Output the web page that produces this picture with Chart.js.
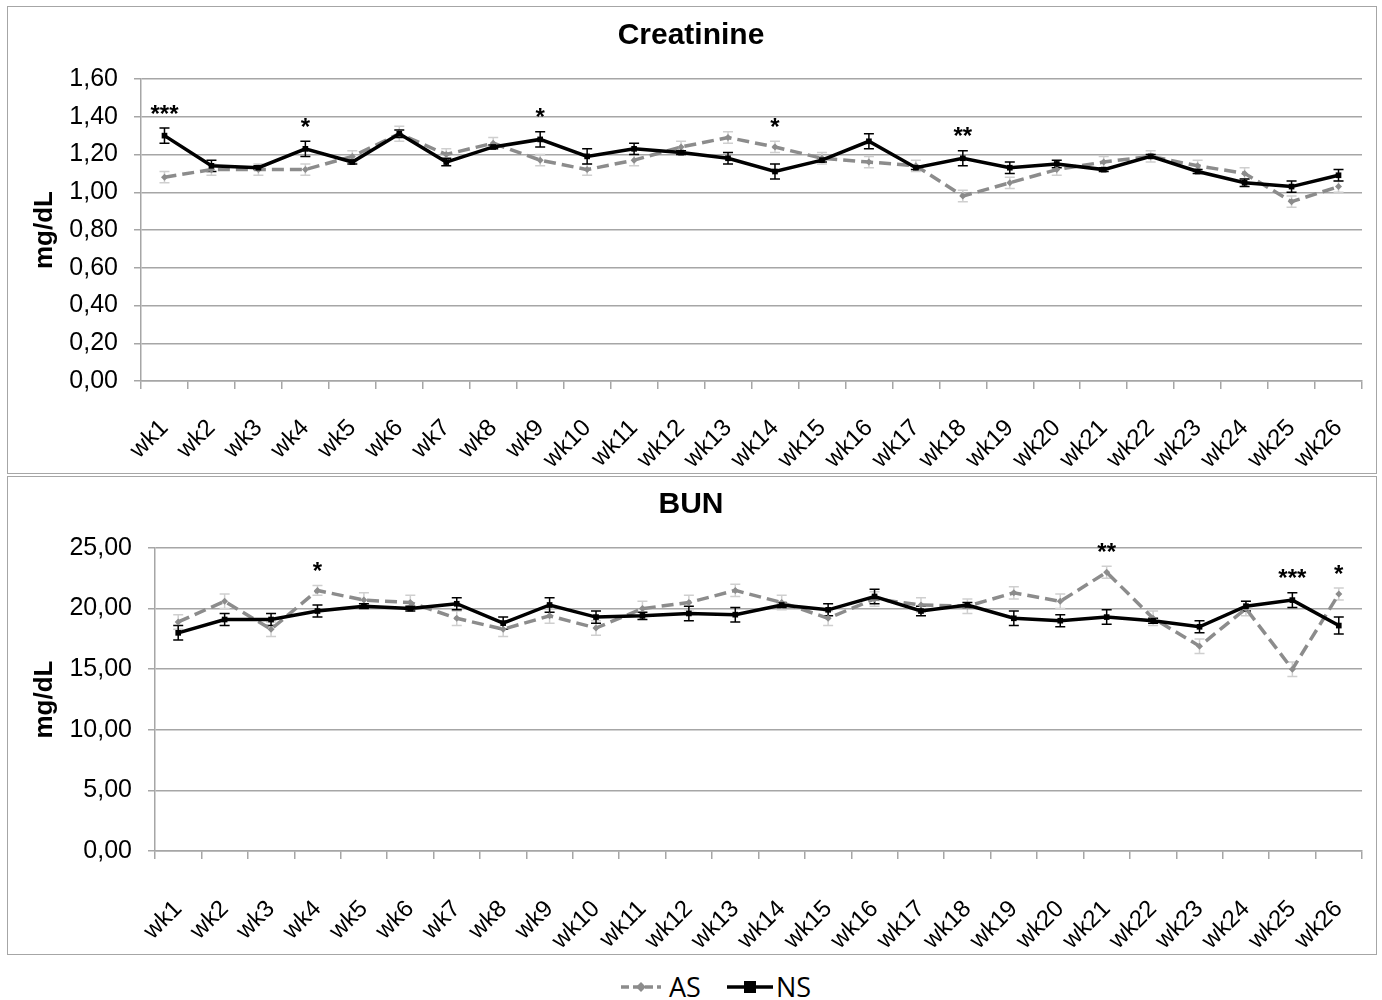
<!DOCTYPE html>
<html>
<head>
<meta charset="utf-8">
<script src="https://cdn.jsdelivr.net/npm/chart.js@4.4.0/dist/chart.umd.min.js"></script>
<style>
body { margin: 0; background: #fff; width: 1382px; height: 1000px; position: relative; overflow: hidden; }
.panel { position: absolute; left: 7px; width: 1368px; border: 1px solid #a6a6a6; background: #fff; }
#p1 { top: 6px; height: 466px; }
#p2 { top: 476px; height: 477px; }
.panel canvas { display: block; }
#legend { position: absolute; left: 25px; top: 965px; width: 1382px; text-align: center; font-family: "Open Sans", sans-serif; font-size: 27px; line-height: 38px; color: #000; }
#legend span { display: inline-block; vertical-align: middle; }
#legend svg { vertical-align: middle; }
</style>
</head>
<body>
<div class="panel" id="p1"><canvas id="creatChart" width="1366" height="466"></canvas></div>
<div class="panel" id="p2"><canvas id="bunChart" width="1366" height="477"></canvas></div>
<div id="legend">
  <svg width="40" height="14"><line x1="0" y1="7" x2="40" y2="7" stroke="#8c8c8c" stroke-width="3.5" stroke-dasharray="8 4"/><rect x="16.5" y="3.5" width="7" height="7" fill="#8c8c8c" transform="rotate(45 20 7)"/></svg><span style="margin-left:8px;margin-right:26px">AS</span><svg width="46" height="14"><line x1="0" y1="7" x2="46" y2="7" stroke="#000" stroke-width="3.5"/><rect x="17" y="1" width="12" height="12" fill="#000"/></svg><span style="margin-left:3px">NS</span>
</div>
<script>
// weeks on the x axis
const weeks = ["wk1", "wk2", "wk3", "wk4", "wk5", "wk6", "wk7", "wk8", "wk9", "wk10", "wk11", "wk12", "wk13",
    "wk14", "wk15", "wk16", "wk17", "wk18", "wk19", "wk20", "wk21", "wk22", "wk23", "wk24", "wk25", "wk26"];

// Creatinine (mg/dL)
const creatAS = [1.08, 1.12, 1.12, 1.12, 1.19, 1.31, 1.20, 1.26, 1.17, 1.12, 1.17, 1.24, 1.29,
    1.24, 1.18, 1.16, 1.14, 0.98, 1.05, 1.12, 1.16, 1.19, 1.14, 1.10, 0.95, 1.03];
const creatASErr = [0.03, 0.03, 0.03, 0.03, 0.03, 0.04, 0.03, 0.03, 0.03, 0.03, 0.03, 0.03, 0.03,
    0.03, 0.03, 0.03, 0.03, 0.03, 0.03, 0.03, 0.03, 0.03, 0.03, 0.03, 0.03, 0.03];
const creatNS = [1.30, 1.14, 1.13, 1.23, 1.16, 1.31, 1.16, 1.24, 1.28, 1.19, 1.23, 1.21, 1.18,
    1.11, 1.17, 1.27, 1.13, 1.18, 1.13, 1.15, 1.12, 1.19, 1.11, 1.05, 1.03, 1.09];
const creatNSErr = [0.04, 0.03, 0.01, 0.04, 0.01, 0.02, 0.02, 0.01, 0.04, 0.04, 0.03, 0.01, 0.03,
    0.04, 0.01, 0.04, 0.01, 0.04, 0.03, 0.02, 0.01, 0.01, 0.01, 0.02, 0.03, 0.03];
const creatStars = ["***", "", "", "*", "", "", "", "", "*", "", "", "", "",
    "*", "", "", "", "**", "", "", "", "", "", "", "", ""];
const creatTicks = [0, 0.2, 0.4, 0.6, 0.8, 1.0, 1.2, 1.4, 1.6];

// BUN (mg/dL)
const bunAS = [18.9, 20.6, 18.3, 21.5, 20.7, 20.5, 19.2, 18.3, 19.4, 18.4, 20.0, 20.5, 21.5,
    20.5, 19.2, 20.8, 20.3, 20.2, 21.3, 20.6, 23.0, 19.2, 16.9, 20.0, 15.0, 21.2];
const bunASErr = [0.6, 0.6, 0.6, 0.4, 0.6, 0.6, 0.6, 0.6, 0.6, 0.6, 0.6, 0.6, 0.5,
    0.6, 0.6, 0.6, 0.6, 0.6, 0.5, 0.6, 0.5, 0.6, 0.6, 0.6, 0.6, 0.5];
const bunNS = [18.0, 19.1, 19.1, 19.8, 20.2, 20.0, 20.4, 18.8, 20.3, 19.3, 19.4, 19.6, 19.5,
    20.3, 19.9, 21.0, 19.8, 20.3, 19.2, 19.0, 19.3, 19.0, 18.5, 20.2, 20.7, 18.6];
const bunNSErr = [0.6, 0.5, 0.5, 0.5, 0.2, 0.2, 0.5, 0.5, 0.6, 0.5, 0.3, 0.6, 0.6,
    0.2, 0.5, 0.6, 0.4, 0.2, 0.6, 0.5, 0.6, 0.2, 0.5, 0.4, 0.6, 0.7];
const bunStars = ["", "", "", "*", "", "", "", "", "", "", "", "", "",
    "", "", "", "", "", "", "", "**", "", "", "", "***", "*"];
const bunTicks = [0, 5, 10, 15, 20, 25];

const GRID = "#a6a6a6";
const AS_COLOR = "#8c8c8c";

// draws the +/- error bars for each dataset
const errorBars = {
    id: "errorBars",
    beforeDatasetsDraw(chart) {
        const ctx = chart.ctx;
        const y = chart.scales.y;
        chart.data.datasets.forEach((ds, di) => {
            const meta = chart.getDatasetMeta(di);
            ctx.save();
            ctx.strokeStyle = ds.errorColor;
            ctx.lineWidth = 1.5;
            meta.data.forEach((pt, i) => {
                const top = y.getPixelForValue(ds.data[i] + ds.errors[i]);
                const bot = y.getPixelForValue(ds.data[i] - ds.errors[i]);
                ctx.beginPath();
                ctx.moveTo(pt.x, top); ctx.lineTo(pt.x, bot);
                ctx.moveTo(pt.x - 5, top); ctx.lineTo(pt.x + 5, top);
                ctx.moveTo(pt.x - 5, bot); ctx.lineTo(pt.x + 5, bot);
                ctx.stroke();
            });
            ctx.restore();
        });
    }
};

// significance asterisks above the highest bar at a week
const stars = {
    id: "stars",
    afterDatasetsDraw(chart, args, opts) {
        const ctx = chart.ctx;
        const x = chart.scales.x, y = chart.scales.y;
        ctx.save();
        ctx.font = "bold 24px 'Liberation Sans'";
        ctx.textAlign = "center";
        ctx.textBaseline = "middle";
        ctx.fillStyle = "#000";
        opts.labels.forEach((s, i) => {
            if (!s) return;
            const top = Math.max(...chart.data.datasets.map(d => d.data[i] + d.errors[i]));
            ctx.fillText(s, x.getPixelForValue(i), y.getPixelForValue(top) - 13);
        });
        ctx.restore();
    }
};

function makeChart(id, title, asData, asErr, nsData, nsErr, starLabels, ticks, axisWidth, axisHeight, titlePad, xPad) {
    const fmt = v => v.toFixed(2).replace(".", ",");
    return new Chart(document.getElementById(id), {
        type: "line",
        data: {
            labels: weeks,
            datasets: [
                {
                    label: "AS", data: asData, errors: asErr, errorColor: "#cfcfcf", order: 2,
                    borderColor: AS_COLOR, borderWidth: 3.5, borderDash: [12, 6],
                    pointStyle: "rectRot", pointRadius: 3.5, pointBackgroundColor: AS_COLOR, pointBorderWidth: 0,
                    tension: 0, fill: false
                },
                {
                    label: "NS", data: nsData, errors: nsErr, errorColor: "#000", order: 1,
                    borderColor: "#000", borderWidth: 3.5,
                    pointStyle: "rect", pointRadius: 4, pointBackgroundColor: "#000", pointBorderWidth: 0,
                    tension: 0, fill: false
                }
            ]
        },
        options: {
            responsive: false,
            animation: false,
            plugins: {
                legend: { display: false },
                tooltip: { enabled: false },
                title: {
                    display: true, text: title, color: "#000",
                    font: { family: "Liberation Sans", size: 30, weight: "bold" },
                    padding: titlePad
                },
                stars: { labels: starLabels }
            },
            scales: {
                x: {
                    offset: true,
                    grid: { display: true, drawOnChartArea: false, offset: true, tickLength: 8, color: GRID, lineWidth: 1.5 },
                    border: { color: GRID, width: 1.5 },
                    ticks: {
                        color: "#000", autoSkip: false, minRotation: 45, maxRotation: 45, padding: xPad,
                        font: { family: "Liberation Sans", size: 24 }
                    },
                    afterFit: s => {
                        s.height = axisHeight;
                        s.paddingLeft = 0;
                        s.paddingRight = 12;
                    }
                },
                y: {
                    min: ticks[0], max: ticks[ticks.length - 1],
                    afterBuildTicks: s => { s.ticks = ticks.map(v => ({ value: v })); },
                    grid: { color: GRID, lineWidth: 1.5, tickLength: 7 },
                    border: { color: GRID, width: 1.5 },
                    ticks: {
                        color: "#000", padding: 16, callback: v => fmt(v),
                        font: { family: "Liberation Sans", size: 25 }
                    },
                    title: {
                        display: true, text: "mg/dL", color: "#000",
                        font: { family: "Liberation Sans", size: 26, weight: "bold" },
                        padding: { top: 21, bottom: 0 }
                    },
                    afterFit: s => { s.width = axisWidth; }
                }
            }
        },
        plugins: [errorBars, stars]
    });
}

makeChart("creatChart", "Creatinine", creatAS, creatASErr, creatNS, creatNSErr, creatStars, creatTicks,
    133, 92, { top: 11, bottom: 25 }, 25);
makeChart("bunChart", "BUN", bunAS, bunASErr, bunNS, bunNSErr, bunStars, bunTicks,
    147, 103, { top: 10, bottom: 25 }, 36);
</script>
</body>
</html>
